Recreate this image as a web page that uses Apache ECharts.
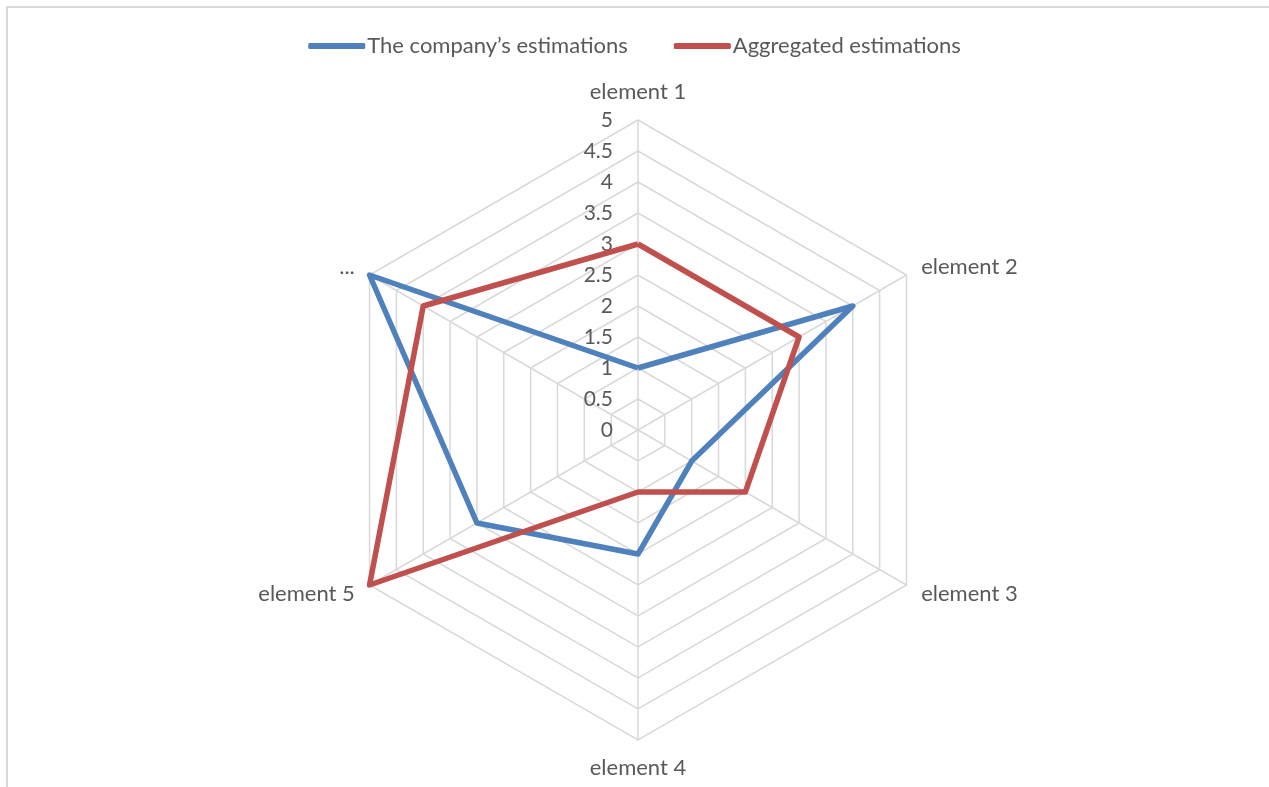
<!DOCTYPE html>
<html lang="en">
<head>
    <meta charset="UTF-8">
    <title>Radar - estimations</title>
    <script src="https://cdn.jsdelivr.net/npm/echarts@6/dist/echarts.min.js"></script>
    <style>
        body {
            margin: 0;
            padding: 0;
            background: #fff;
        }
        .frame {
            position: absolute;
            left: 6px;
            top: 6px;
            width: 1263px;
            height: 781px;
            border-top: 2px solid #d9d9d9;
            border-left: 2px solid #d9d9d9;
        }
        #main {
            position: absolute;
            left: 0;
            top: 0;
            width: 1269px;
            height: 787px;
        }
    </style>
</head>
<body>
    <div class="frame"></div>
    <div id="main"></div>
    <script>
        // axes in reading order (clockwise from the top)
        var categories = ['element 1', 'element 2', 'element 3', 'element 4', 'element 5', '...'];
        var companyValues = [1, 4, 1, 2, 3, 5];
        var aggregatedValues = [3, 3, 2, 1, 5, 4];
        var tickLabels = ['0', '0.5', '1', '1.5', '2', '2.5', '3', '3.5', '4', '4.5', '5'];

        // echarts lays indicators out counter-clockwise, so flip everything after the first
        var order = [0, 5, 4, 3, 2, 1];
        function reorder(arr) {
            return order.map(function (i) { return arr[i]; });
        }

        var textColor = '#595959';
        var font = 'Lato, "Open Sans", sans-serif';

        var chart = echarts.init(document.getElementById('main'));
        chart.setOption({
            animation: false,
            legend: {
                top: 30,
                left: 'center',
                itemWidth: 57,
                itemHeight: 6,
                itemGap: 46,
                icon: 'roundRect',
                textStyle: { fontSize: 22, color: textColor, fontFamily: font, padding: [0, 0, 0, -3] },
                data: ['The company’s estimations', 'Aggregated estimations']
            },
            radar: {
                center: [638, 430],
                radius: 310,
                startAngle: 90,
                shape: 'polygon',
                splitNumber: 10,
                indicator: reorder(categories).map(function (c) {
                    return { name: c, min: 0, max: 5 };
                }),
                nameGap: 17,
                axisName: { color: textColor, fontSize: 22, fontFamily: font },
                axisLine: { lineStyle: { color: '#d9d9d9', width: 1.5 } },
                splitLine: { lineStyle: { color: '#d9d9d9', width: 1.5 } },
                splitArea: { show: false },
                axisLabel: { show: false }
            },
            // value labels along the top spoke
            grid: { left: 638, top: 120, width: 1, height: 310 },
            xAxis: { type: 'value', show: false },
            yAxis: {
                type: 'category',
                data: tickLabels,
                boundaryGap: false,
                axisLine: { show: false },
                axisTick: { show: false },
                splitLine: { show: false },
                axisLabel: { margin: 25, fontSize: 21, color: textColor, fontFamily: font }
            },
            series: [{
                type: 'radar',
                symbol: 'none',
                data: [
                    {
                        name: 'The company’s estimations',
                        value: reorder(companyValues),
                        lineStyle: { color: '#4f81bd', width: 5.5, join: 'round' },
                        itemStyle: { color: '#4f81bd' }
                    },
                    {
                        name: 'Aggregated estimations',
                        value: reorder(aggregatedValues),
                        lineStyle: { color: '#c0504d', width: 5.5, join: 'round' },
                        itemStyle: { color: '#c0504d' }
                    }
                ]
            }]
        });
    </script>
</body>
</html>
